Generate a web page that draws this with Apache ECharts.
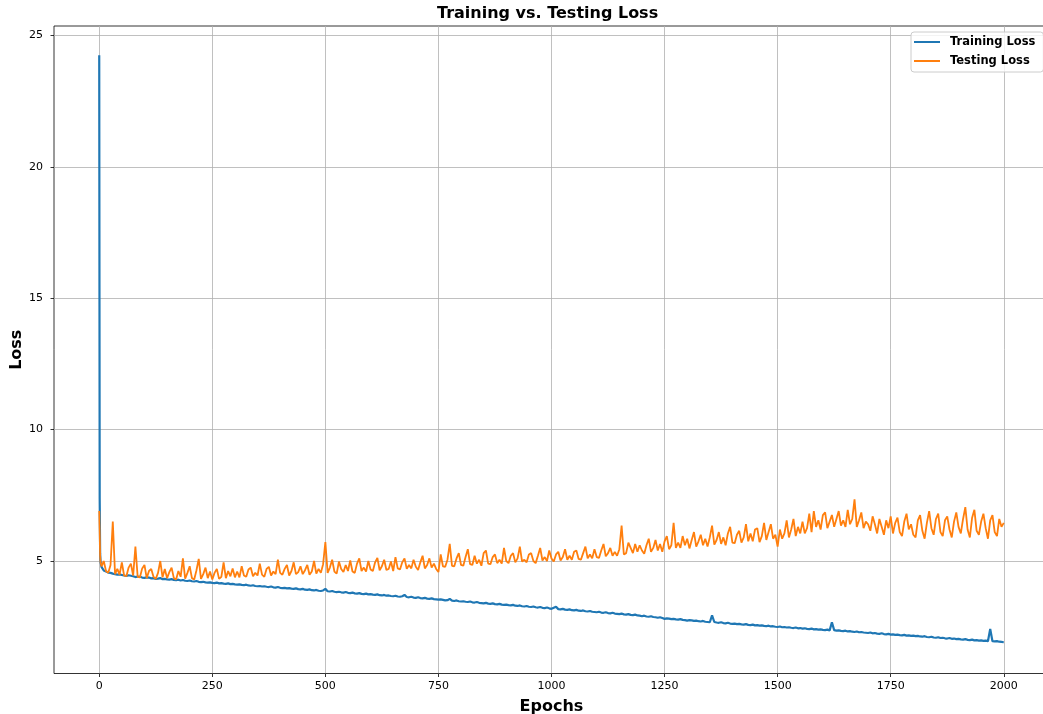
<!DOCTYPE html>
<html><head><meta charset="utf-8">
<script src="https://cdn.jsdelivr.net/npm/echarts@6/dist/echarts.min.js"></script>
<style>html,body{margin:0;padding:0;background:#fff}#c{width:1043px;height:714px}</style>
</head><body><div id="c"></div>
<script>
// Epoch positions: 0,1,2,3 then every 5 epochs up to 2000
const earlyEpochs = [0, 1, 2, 3];
const epochStep = 5;
const lastEpoch = 2000;

const trainingLoss = [24.25,7.40,5.30,4.95,
4.78,4.64,4.60,4.56,4.55,4.52,4.50,4.48,4.49,4.47,
4.45,4.43,4.46,4.44,4.42,4.39,4.41,4.40,4.37,4.36,
4.38,4.37,4.34,4.35,4.32,4.33,4.35,4.31,4.32,4.30,
4.29,4.31,4.28,4.27,4.29,4.26,4.28,4.25,4.24,4.26,
4.23,4.22,4.24,4.21,4.20,4.21,4.19,4.18,4.19,4.17,
4.16,4.18,4.15,4.16,4.14,4.13,4.15,4.12,4.13,4.11,
4.10,4.11,4.09,4.08,4.10,4.07,4.06,4.08,4.05,4.04,
4.05,4.03,4.04,4.02,4.01,4.03,4.00,3.99,4.01,3.98,
3.97,3.98,3.96,3.97,3.95,3.94,3.96,3.93,3.92,3.94,
3.91,3.90,3.92,3.89,3.88,3.90,3.87,3.86,3.88,3.94,
3.85,3.84,3.86,3.83,3.82,3.83,3.81,3.80,3.82,3.79,
3.78,3.80,3.77,3.76,3.78,3.75,3.74,3.76,3.73,3.74,
3.72,3.71,3.73,3.70,3.69,3.71,3.68,3.69,3.67,3.66,
3.68,3.65,3.64,3.66,3.71,3.63,3.62,3.64,3.61,3.60,
3.62,3.59,3.58,3.60,3.57,3.56,3.58,3.55,3.54,3.53,
3.54,3.52,3.50,3.51,3.56,3.49,3.48,3.50,3.47,3.46,
3.47,3.45,3.44,3.46,3.43,3.42,3.44,3.41,3.40,3.39,
3.41,3.38,3.37,3.39,3.36,3.35,3.37,3.34,3.33,3.34,
3.32,3.31,3.33,3.30,3.29,3.31,3.28,3.27,3.29,3.26,
3.25,3.27,3.24,3.23,3.25,3.22,3.21,3.23,3.20,3.18,
3.22,3.26,3.17,3.16,3.18,3.15,3.14,3.16,3.13,3.12,
3.14,3.11,3.10,3.12,3.09,3.08,3.10,3.07,3.06,3.05,
3.07,3.04,3.03,3.05,3.02,3.01,3.03,3.00,2.99,2.98,
3.00,2.97,2.96,2.98,2.95,2.94,2.96,2.93,2.92,2.90,
2.92,2.89,2.88,2.90,2.87,2.86,2.84,2.86,2.83,2.80,
2.82,2.81,2.79,2.80,2.78,2.77,2.79,2.76,2.75,2.73,
2.75,2.74,2.72,2.73,2.71,2.70,2.72,2.69,2.68,2.67,
2.93,2.68,2.66,2.65,2.67,2.64,2.63,2.65,2.62,2.61,
2.62,2.60,2.61,2.59,2.58,2.60,2.57,2.56,2.58,2.55,
2.56,2.54,2.55,2.53,2.52,2.54,2.51,2.52,2.50,2.49,
2.51,2.48,2.49,2.47,2.48,2.46,2.45,2.47,2.44,2.45,
2.43,2.44,2.42,2.41,2.43,2.40,2.41,2.39,2.40,2.38,
2.37,2.39,2.36,2.67,2.37,2.35,2.36,2.34,2.33,2.35,
2.32,2.33,2.31,2.30,2.32,2.29,2.30,2.28,2.27,2.26,
2.28,2.25,2.26,2.24,2.23,2.25,2.22,2.21,2.23,2.20,
2.21,2.19,2.20,2.18,2.17,2.19,2.16,2.17,2.15,2.16,
2.14,2.15,2.13,2.12,2.14,2.11,2.10,2.12,2.09,2.08,
2.10,2.07,2.08,2.06,2.05,2.07,2.04,2.05,2.03,2.04,
2.02,2.01,2.03,2.00,1.99,2.01,1.98,1.99,1.97,1.98,
1.96,1.97,1.95,2.42,1.95,1.94,1.95,1.93,1.92,1.91];

const testingLoss = [6.90,6.10,5.20,4.95,
4.80,5.00,4.62,4.55,4.85,6.50,4.50,4.70,4.48,4.95,
4.45,4.42,4.75,4.90,4.45,5.55,4.40,4.38,4.72,4.85,
4.35,4.62,4.70,4.40,4.32,4.55,5.00,4.38,4.70,4.35,
4.58,4.75,4.35,4.30,4.62,4.40,5.10,4.33,4.55,4.80,
4.35,4.30,4.65,5.08,4.32,4.50,4.75,4.35,4.60,4.30,
4.55,4.70,4.32,4.40,4.95,4.35,4.62,4.42,4.72,4.38,
4.60,4.38,4.80,4.45,4.40,4.68,4.75,4.42,4.55,4.45,
4.90,4.48,4.40,4.70,4.78,4.45,4.60,4.50,5.05,4.55,
4.48,4.70,4.85,4.45,4.62,4.95,4.50,4.58,4.80,4.50,
4.65,4.85,4.48,4.60,5.00,4.52,4.70,4.55,4.88,5.72,
4.55,4.75,5.05,4.60,4.52,4.98,4.70,4.58,4.85,4.62,
5.02,4.60,4.55,4.90,5.10,4.62,4.75,4.60,5.00,4.68,
4.62,4.95,5.12,4.65,4.80,5.05,4.66,4.70,4.98,4.62,
5.15,4.72,4.68,4.95,5.10,4.70,4.85,4.72,5.05,4.78,
4.66,4.95,5.20,4.72,4.85,5.10,4.75,4.90,4.70,4.58,
5.25,4.80,4.78,5.05,5.65,4.82,4.80,5.10,5.30,4.85,
4.82,5.15,5.45,4.88,4.85,5.20,4.90,5.05,4.82,5.30,
5.40,4.90,4.88,5.15,5.25,4.92,5.05,4.90,5.50,5.00,
4.92,5.20,5.30,4.95,5.10,5.55,4.98,5.05,4.95,5.25,
5.30,5.00,4.92,5.20,5.50,5.02,5.15,5.00,5.40,5.10,
4.98,5.25,5.35,5.02,5.15,5.45,5.05,5.20,5.05,5.35,
5.40,5.08,5.05,5.30,5.55,5.10,5.25,5.10,5.45,5.15,
5.12,5.40,5.65,5.18,5.30,5.50,5.20,5.35,5.20,5.45,
6.35,5.25,5.30,5.70,5.50,5.30,5.65,5.35,5.60,5.40,
5.28,5.60,5.85,5.35,5.50,5.80,5.40,5.65,5.35,5.75,
5.95,5.45,5.60,6.45,5.50,5.70,5.50,5.95,5.60,5.85,
5.48,5.80,6.10,5.55,5.75,6.00,5.60,5.85,5.55,5.90,
6.35,5.62,5.80,6.10,5.65,5.90,5.60,6.05,6.30,5.70,
5.68,6.00,6.15,5.70,5.90,6.40,5.75,6.05,5.75,6.20,
6.25,5.72,5.95,6.45,5.80,6.10,6.40,5.85,6.00,5.55,
6.20,5.85,6.05,6.55,5.90,6.20,6.60,5.95,6.30,6.05,
6.50,6.05,6.25,6.80,6.10,6.90,6.30,6.55,6.20,6.75,
6.85,6.25,6.50,6.75,6.30,6.60,6.90,6.35,6.55,6.30,
6.95,6.40,6.60,7.35,6.30,6.55,6.85,6.25,6.50,6.40,
6.15,6.70,6.40,6.05,6.60,6.30,6.00,6.55,6.25,6.70,
6.05,6.45,6.65,6.10,5.95,6.50,6.80,6.20,6.40,6.00,
5.90,6.55,6.75,6.15,5.85,6.45,6.90,6.25,6.00,6.60,
6.80,6.10,5.95,6.55,6.70,6.20,5.90,6.50,6.85,6.30,
6.05,6.60,7.05,6.20,5.90,6.65,6.95,6.15,6.00,6.50,
6.80,6.25,5.85,6.55,6.75,6.10,5.95,6.60,6.30,6.45];

const xTicks = [0, 250, 500, 750, 1000, 1250, 1500, 1750, 2000];
const yTicks = [5, 10, 15, 20, 25];

const epochs = earlyEpochs.slice();
for (let e = epochStep; e <= lastEpoch; e += epochStep) epochs.push(e);

const FONT = 'DejaVu Sans';
const chart = echarts.init(document.getElementById('c'), null, {renderer: 'canvas'});
chart.setOption({
  animation: false,
  backgroundColor: '#ffffff',
  title: {
    text: 'Training vs. Testing Loss', left: 437, top: 6, padding: 0,
    textStyle: {fontFamily: FONT, fontSize: 16, fontWeight: 'bold', color: '#000'}
  },
  legend: {
    left: 911, top: 32, orient: 'vertical',
    padding: [4, 8, 5, 3], itemGap: 7, itemWidth: 26, itemHeight: 2,
    backgroundColor: 'rgba(255,255,255,0.8)', borderColor: '#cccccc', borderWidth: 1, borderRadius: 3,
    textStyle: {fontFamily: FONT, fontSize: 11.5, fontWeight: 'bold', color: '#000', padding: [0, 0, 0, 5]},
    data: [{name: 'Training Loss', icon: 'rect'}, {name: 'Testing Loss', icon: 'rect'}]
  },
  grid: {left: 54, top: 26, right: -6, bottom: 40.5, outerBoundsMode: 'none', containLabel: false,
         show: true, borderColor: '#000', borderWidth: 0.8, backgroundColor: 'transparent'},
  xAxis: {
    type: 'value', min: -100, max: 2100,
    name: 'Epochs', nameLocation: 'middle', nameGap: 25.5,
    nameTextStyle: {fontFamily: FONT, fontSize: 16, fontWeight: 'bold', color: '#000'},
    axisLine: {show: false, onZero: false},
    axisTick: {show: true, customValues: xTicks, length: 3.5, lineStyle: {color: '#000', width: 0.8}},
    axisLabel: {customValues: xTicks, margin: 7, fontFamily: FONT, fontSize: 11, color: '#000',
                formatter: v => String(v)},
    splitLine: {show: true, lineStyle: {color: '#b0b0b0', width: 0.8}}
  },
  yAxis: {
    type: 'value', min: 0.72, max: 25.36,
    name: 'Loss', nameLocation: 'middle', nameGap: 29, nameMoveOverlap: false,
    nameTextStyle: {fontFamily: FONT, fontSize: 16, fontWeight: 'bold', color: '#000'},
    axisLine: {show: false, onZero: false},
    axisTick: {show: true, customValues: yTicks, length: 3.5, lineStyle: {color: '#000', width: 0.8}},
    axisLabel: {customValues: yTicks, margin: 11, fontFamily: FONT, fontSize: 11, color: '#000',
                formatter: v => String(v)},
    splitLine: {show: true, lineStyle: {color: '#b0b0b0', width: 0.8}}
  },
  series: [
    {name: 'Training Loss', type: 'line', symbol: 'none', color: '#1f77b4',
     lineStyle: {width: 2.2, color: '#1f77b4'},
     data: epochs.map((e, i) => [e, trainingLoss[i]])},
    {name: 'Testing Loss', type: 'line', symbol: 'none', color: '#ff7f0e',
     lineStyle: {width: 1.8, color: '#ff7f0e'},
     data: epochs.map((e, i) => [e, testingLoss[i]])}
  ]
});
</script>
</body></html>
